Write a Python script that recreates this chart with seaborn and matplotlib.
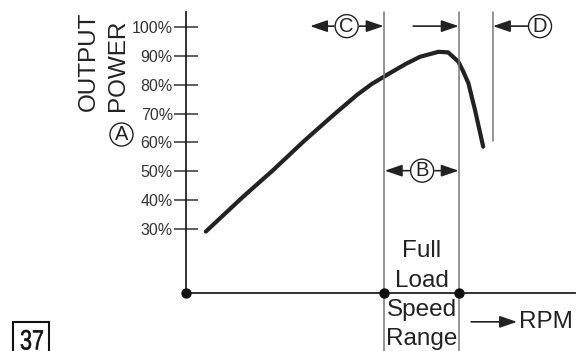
import numpy as np
import pandas as pd
import seaborn as sns
import matplotlib.pyplot as plt
import matplotlib.transforms as mtransforms
from matplotlib.textpath import TextPath
from matplotlib.patches import PathPatch, Rectangle
from matplotlib.font_manager import FontProperties

# output power curve (x = rpm in arbitrary units 0-100)
rpm = [5.1, 14.7, 22.4, 30.2, 37.9, 43.9, 47.7, 52.4, 56.5, 60.2, 64.9, 67.4, 70.0, 71.3, 72.6, 74.3, 76.4]
power = [29.1, 41.2, 50.4, 60.3, 69.5, 76.4, 80.2, 84.0, 87.2, 89.7, 91.4, 91.2, 88.0, 84.5, 80.5, 71.2, 58.5]
yticks = [30, 40, 50, 60, 70, 80, 90, 100]
ytick_labels = [f'{t}%' for t in yticks]
range_edges = [51.0, 70.3]   # full load speed range
limit_rpm = 78.8             # line at D
axis_dots = [0, 51.0, 70.3]

W, H = 582, 351
sns.set_theme(style='white')
plt.rcParams['font.family'] = ['Liberation Sans', 'DejaVu Sans']
ink = '#222222'

fig = plt.figure(figsize=(W / 100, H / 100), dpi=100)
ax = fig.add_axes([186 / W, 58 / H, 389 / W, 281 / H])

df = pd.DataFrame({'rpm': rpm, 'power': power})
sns.lineplot(data=df, x='rpm', y='power', sort=False, color=ink, lw=3, ax=ax)
ax.set_xlim(0, 100)
ax.set_ylim(7.8, 105.2)
ybot = 7.8

ax.set_xticks([])
ax.set_yticks(yticks, ytick_labels)
ax.tick_params(axis='y', direction='inout', length=17, width=1.1, color='#333333',
               labelsize=11.5, labelcolor='#333333', pad=1, left=True)
ax.set_xlabel('')
ax.set_ylabel('')
ax.spines[['top', 'right']].set_visible(False)
for s in ['left', 'bottom']:
    ax.spines[s].set_color(ink)
    ax.spines[s].set_linewidth(1.3)

# vertical guide lines
for x in range_edges:
    ax.axvline(x, ymin=-58 / 281, ymax=1, color='#777777', lw=1.1, clip_on=False)
ax.axvline(limit_rpm, ymin=0.541, ymax=1, color='#777777', lw=1.1, clip_on=False)

ax.scatter(axis_dots, [ybot] * len(axis_dots), s=42, color='#111111', zorder=5, clip_on=False)

circle_box = dict(boxstyle='circle,pad=0.1', fc='white', ec=ink, lw=1)


def circled(x, y, letter):
    ax.text(x, y, letter, ha='center', va='center', fontsize=14.5, color=ink,
            bbox=circle_box, clip_on=False, zorder=6)


def arrow(x0, x1, y):
    ax.annotate('', xy=(x1, y), xytext=(x0, y), annotation_clip=False,
                arrowprops=dict(arrowstyle='-|>,head_length=1.05,head_width=0.36',
                                mutation_scale=10, color=ink, lw=1.2,
                                shrinkA=0, shrinkB=0))


# C, D and the top arrows
circled(41.3, 100.3, 'C')
arrow(38.0, 31.9, 100.3)
arrow(44.6, 50.8, 100.3)
arrow(58.4, 70.1, 100.3)
circled(91.0, 100.3, 'D')
arrow(87.8, 78.9, 100.3)

# B between the range lines
circled(60.7, 50.2, 'B')
arrow(57.4, 51.1, 50.2)
arrow(64.0, 70.1, 50.2)

# labels inside / below the speed range
for txt, y in [('Full', 22.4), ('Load', 12.0), ('Speed', 1.9), ('Range', -8.1)]:
    ax.text(60.65, y, txt, ha='center', va='center', fontsize=17.5, color=ink, clip_on=False)

arrow(73.3, 85.1, -2.2)
ax.text(85.6, -2.2, 'RPM', ha='left', va='center', fontsize=17.5, color=ink, clip_on=False)

# y axis title
fig.text(89 / W, 1 - 111 / H, 'OUTPUT', rotation=90, ha='center', va='bottom', fontsize=17.5, color=ink)
fig.text(117.5 / W, 1 - 111 / H, 'POWER', rotation=90, ha='center', va='bottom', fontsize=17.5, color=ink)
fig.text(121.5 / W, 1 - 134.5 / H, 'A', ha='center', va='center', fontsize=14.5, color=ink,
         bbox=circle_box)

# page number "37" in a box, narrow digits
tp = TextPath((0, 0), '37', size=28, prop=FontProperties(family='Liberation Sans'))
to_fig = mtransforms.Affine2D().scale(0.77, 1).translate(20, 1.5).scale(1 / W, 1 / H) + fig.transFigure
fig.patches.append(PathPatch(tp, transform=to_fig, fc='#111111', ec='#111111', lw=0.4))
fig.patches.append(Rectangle((13 / W, -5 / H), 36 / W, 34 / H, transform=fig.transFigure,
                             fill=False, ec='#111111', lw=1.5))

fig.savefig('out.png', dpi=100, facecolor='white')
